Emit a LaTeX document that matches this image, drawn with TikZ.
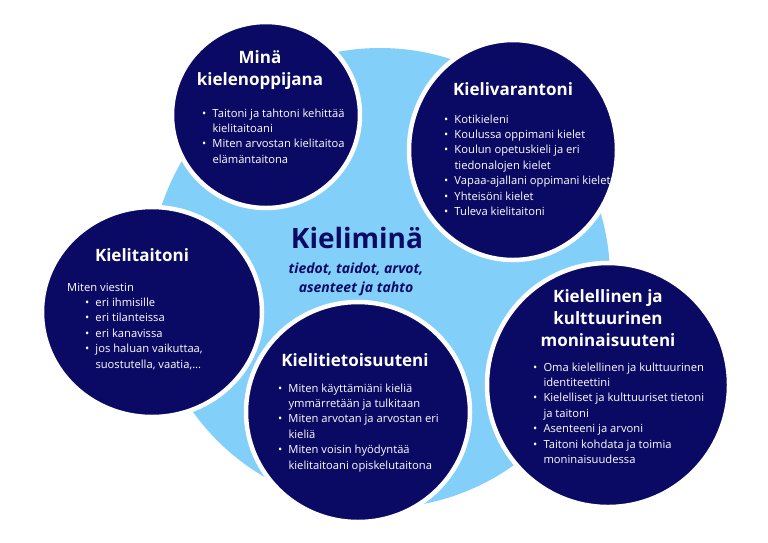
\documentclass[tikz,border=0pt]{standalone}
\usepackage{fontspec}
\setmainfont{Open Sans}
\definecolor{navy}{HTML}{0A0A64}
\definecolor{sky}{HTML}{82D0FA}
\tikzset{
  bubble/.style={fill=navy, draw=white, line width=4.5pt},
  ttl/.style={text=white, font=\fontsize{17}{22}\selectfont\bfseries, inner sep=0pt, anchor=base},
  body/.style={text=white, font=\fontsize{11.2}{15.4}\selectfont, inner sep=0pt, anchor=base west},
  hub/.style={text=navy, inner sep=0pt, anchor=base},
}
\newcommand\bl{\makebox[10.3pt][l]{•}}
\newcommand\ind{\hspace*{10.3pt}}
\begin{document}
\begin{tikzpicture}[x=1pt,y=-1pt]
\useasboundingbox (0,0) rectangle (768,542);
\fill[white] (0,0) rectangle (768,542);
% light blue blob
\fill[sky] (380,278) circle[radius=230pt];

% circles
\draw[bubble] (266,115) ellipse[x radius=94pt, y radius=93pt];
\node[inner sep=0pt] (c1) at (266,115) {};
\draw[bubble] (513,150) ellipse[x radius=104pt, y radius=110pt];
\node[inner sep=0pt] (c2) at (513,150) {};
\draw[bubble] (152,312) ellipse[x radius=110pt, y radius=105pt];
\node[inner sep=0pt] (c3) at (152,312) {};
\draw[bubble] (358,412) ellipse[x radius=112pt, y radius=110pt];
\node[inner sep=0pt] (c4) at (358,412) {};
\draw[bubble] (608,385) ellipse[x radius=121pt, y radius=122pt];
\node[inner sep=0pt] (c5) at (608,385) {};

% centre text
\node[hub, font=\fontsize{28}{30}\selectfont\bfseries] (hubtitle) at (357,248) {Kieliminä};
\node[hub, font=\fontsize{14}{19}\selectfont\bfseries\itshape] (hubsub) at (356,273)
  {\begin{tabular}[t]{@{}c@{}}tiedot, taidot, arvot,\\asenteet ja tahto\end{tabular}};

% titles
\node[ttl] (t1) at (260,63) {\begin{tabular}[t]{@{}c@{}}Minä\\kielenoppijana\end{tabular}};
\node[ttl] (t2) at (513,95) {Kielivarantoni};
\node[ttl] (t3) at (142,261) {Kielitaitoni};
\node[ttl] (t4) at (355,366) {Kielitietoisuuteni};
\node[ttl] (t5) at (608,302) {\begin{tabular}[t]{@{}c@{}}Kielellinen ja\\kulttuurinen\\moninaisuuteni\end{tabular}};

% bodies
\node[body] (b1) at (202,117) {\begin{tabular}[t]{@{}l@{}}
\bl Taitoni ja tahtoni kehittää\\
\ind kielitaitoani\\
\bl Miten arvostan kielitaitoa\\
\ind elämäntaitona\end{tabular}};

\node[body] (b2) at (444,123) {\begin{tabular}[t]{@{}l@{}}
\bl Kotikieleni\\
\bl Koulussa oppimani kielet\\
\bl Koulun opetuskieli ja eri\\
\ind tiedonalojen kielet\\
\bl Vapaa-ajallani oppimani kielet\\
\bl Yhteisöni kielet\\
\bl Tuleva kielitaitoni\end{tabular}};

\node[body] (b3) at (67,291) {\begin{tabular}[t]{@{}l@{}}
Miten viestin\\
\hspace*{18pt}\bl eri ihmisille\\
\hspace*{18pt}\bl eri tilanteissa\\
\hspace*{18pt}\bl eri kanavissa\\
\hspace*{18pt}\bl jos haluan vaikuttaa,\\
\hspace*{18pt}\ind suostutella, vaatia,...\end{tabular}};

\node[body] (b4) at (278,392) {\begin{tabular}[t]{@{}l@{}}
\bl Miten käyttämiäni kieliä\\
\ind ymmärretään ja tulkitaan\\
\bl Miten arvotan ja arvostan eri\\
\ind kieliä\\
\bl Miten voisin hyödyntää\\
\ind kielitaitoani opiskelutaitona\end{tabular}};

\node[body] (b5) at (533,371) {\begin{tabular}[t]{@{}l@{}}
\bl Oma kielellinen ja kulttuurinen\\
\ind identiteettini\\
\bl Kielelliset ja kulttuuriset tietoni\\
\ind ja taitoni\\
\bl Asenteeni ja arvoni\\
\bl Taitoni kohdata ja toimia\\
\ind moninaisuudessa\end{tabular}};
\end{tikzpicture}
\end{document}
